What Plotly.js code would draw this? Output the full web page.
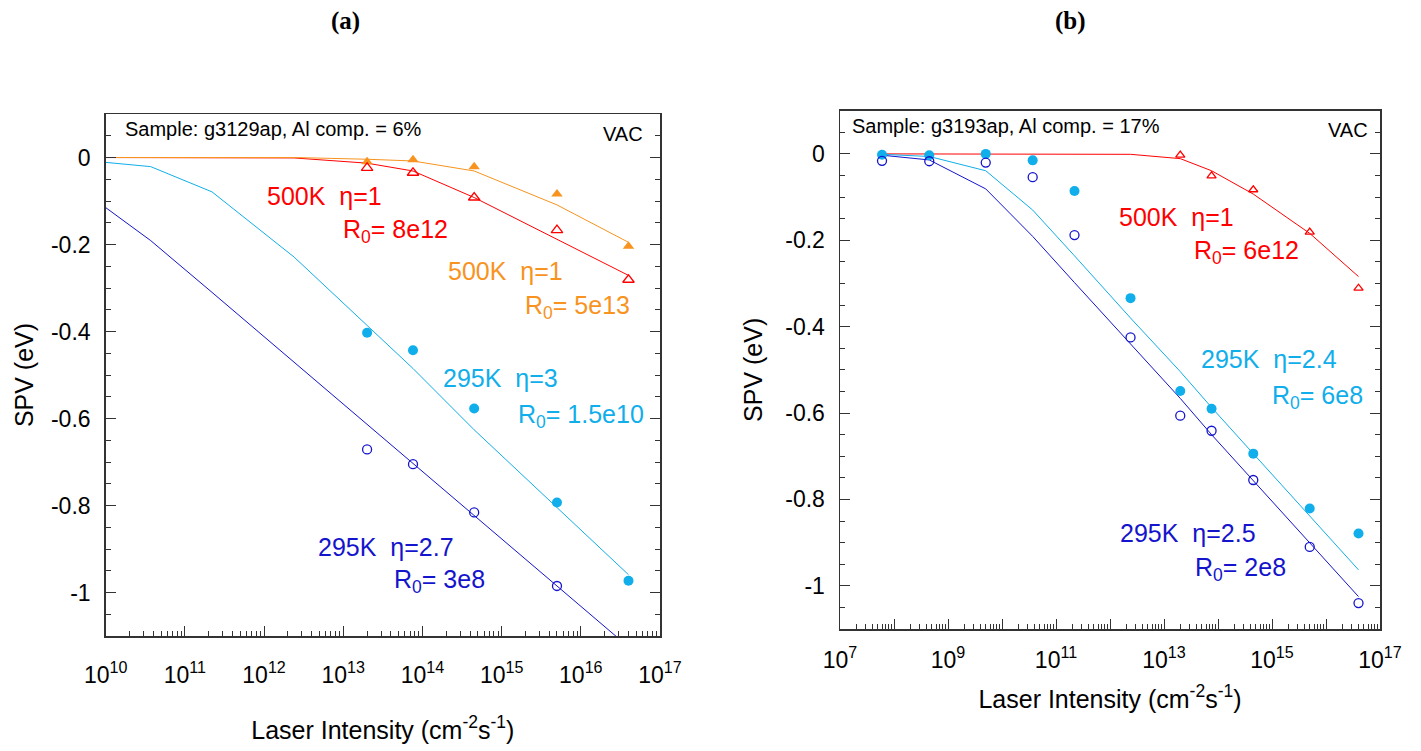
<!DOCTYPE html>
<html>
<head>
<meta charset="utf-8">
<script src="https://cdn.plot.ly/plotly-3.0.1.min.js"></script>
<style>html,body{margin:0;padding:0;background:#fff;}#chart{width:1421px;height:751px;}</style>
</head>
<body>
<div id="chart"></div>
<script>
// ---------- data ----------
// laser intensities of the fitted curves and of the measurement points
const xFitA = [5e9, 3.7e10, 2.2e11, 2.4e12, 2e13, 7.6e13, 4.5e14, 5e15, 4e16];
const xFitB = [6e7, 4.5e8, 5e9, 3.7e10, 2.2e11, 2.4e12, 2e13, 7.6e13, 4.5e14, 5e15, 4e16];
const xPtsA = [2e13, 7.6e13, 4.5e14, 5e15, 4e16];
const xPtsA_blue = [2e13, 7.6e13, 4.5e14, 5e15];
const xPtsB = [6e7, 4.5e8, 5e9, 3.7e10, 2.2e11, 2.4e12, 2e13, 7.6e13, 4.5e14, 5e15, 4e16];
const xPtsB_red = [2e13, 7.6e13, 4.5e14, 5e15, 4e16];

// panel (a): g3129ap, Al 6%
const aFit500K_R8e12 = [0, 0, 0, -0.001, -0.013, -0.031, -0.092, -0.188, -0.271];
const aFit500K_R5e13 = [0, 0, 0, 0, -0.004, -0.008, -0.031, -0.109, -0.195];
const aFit295K_eta3  = [-0.006, -0.021, -0.079, -0.229, -0.386, -0.485, -0.626, -0.805, -0.959];
const aFit295K_eta27 = [-0.075, -0.191, -0.310, -0.471, -0.614, -0.705, -0.825, -0.985, -1.125];
const aPts500K_open   = [-0.024, -0.035, -0.092, -0.167, -0.281];
const aPts500K_filled = [-0.010, -0.005, -0.021, -0.084, -0.204];
const aPts295K_filled = [-0.403, -0.443, -0.577, -0.793, -0.973];
const aPts295K_open   = [-0.671, -0.705, -0.816, -0.985];

// panel (b): g3193ap, Al 17%
const bFit500K_R6e12 = [0, 0, 0, 0, 0, -0.001, -0.011, -0.039, -0.093, -0.184, -0.284];
const bFit295K_eta24 = [-0.001, -0.006, -0.039, -0.130, -0.236, -0.380, -0.504, -0.587, -0.694, -0.837, -0.963];
const bFit295K_eta25 = [-0.003, -0.014, -0.081, -0.191, -0.298, -0.441, -0.566, -0.650, -0.757, -0.901, -1.025];
const bPts295K_filled = [-0.002, -0.003, 0, -0.015, -0.086, -0.334, -0.549, -0.590, -0.694, -0.821, -0.879];
const bPts295K_open   = [-0.016, -0.017, -0.020, -0.054, -0.188, -0.425, -0.606, -0.641, -0.755, -0.910, -1.040];
const bPts500K_open   = [-0.003, -0.051, -0.083, -0.181, -0.311];

// tick labels
const yTickVals = [0, -0.2, -0.4, -0.6, -0.8, -1];
const yTickText = ['0', '-0.2', '-0.4', '-0.6', '-0.8', '-1'];
const xDecadesA = [10, 11, 12, 13, 14, 15, 16, 17];
const xDecadesB = [7, 8, 9, 10, 11, 12, 13, 14, 15, 16, 17];
const xLabelEveryB = 2;

// ---------- styling ----------
const RED = '#ff0000', ORANGE = '#f7931e', CYAN = '#10aeea', BLUE = '#1414cc';
const FONT = 'Liberation Sans, Arial, Helvetica, sans-serif';
const AX = '#333333';

function line(x, y, color, xa, ya) {
  return {x: x, y: y, mode: 'lines', line: {color: color, width: 1}, xaxis: xa, yaxis: ya, hoverinfo: 'skip'};
}
function pts(x, y, color, symbol, size, xa, ya) {
  const open = symbol.indexOf('open') >= 0;
  return {x: x, y: y, mode: 'markers', xaxis: xa, yaxis: ya,
    marker: {symbol: symbol, size: size, color: color, line: {color: color, width: open ? 1.3 : 0}}};
}

const traces = [
  line(xFitA, aFit500K_R8e12, RED, 'x', 'y'),
  line(xFitA, aFit500K_R5e13, ORANGE, 'x', 'y'),
  line(xFitA, aFit295K_eta3, CYAN, 'x', 'y'),
  line(xFitA, aFit295K_eta27, BLUE, 'x', 'y'),
  pts(xPtsA, aPts500K_filled, ORANGE, 'triangle-up', 10, 'x', 'y'),
  pts(xPtsA, aPts500K_open, RED, 'triangle-up-open', 10, 'x', 'y'),
  pts(xPtsA, aPts295K_filled, CYAN, 'circle', 10, 'x', 'y'),
  pts(xPtsA_blue, aPts295K_open, BLUE, 'circle-open', 9, 'x', 'y'),

  line(xFitB, bFit500K_R6e12, RED, 'x2', 'y2'),
  line(xFitB, bFit295K_eta24, CYAN, 'x2', 'y2'),
  line(xFitB, bFit295K_eta25, BLUE, 'x2', 'y2'),
  pts(xPtsB_red, bPts500K_open, RED, 'triangle-up-open', 8, 'x2', 'y2'),
  pts(xPtsB, bPts295K_filled, CYAN, 'circle', 10, 'x2', 'y2'),
  pts(xPtsB, bPts295K_open, BLUE, 'circle-open', 9, 'x2', 'y2')
];

function minorVals(decs) {
  const v = [];
  for (let i = 0; i < decs.length - 1; i++) for (let m = 2; m <= 9; m++) v.push(m * Math.pow(10, decs[i]));
  return v;
}
function xAxis(decs, labelEvery, domain, anchor, standoff, titleStandoff) {
  return {
    type: 'log', domain: domain, anchor: anchor, range: [decs[0], decs[decs.length - 1]],
    tickmode: 'array',
    tickvals: decs.map(d => Math.pow(10, d)),
    ticktext: decs.map((d, i) => (i % labelEvery === 0) ? '10<sup>' + d + '</sup>' : ''),
    ticks: 'inside', ticklen: 10, tickwidth: 1, tickcolor: AX,
    minor: {tickmode: 'array', tickvals: minorVals(decs), ticks: 'inside', ticklen: 5, tickwidth: 1, tickcolor: AX, showgrid: false},
    showline: true, mirror: true, linecolor: AX, linewidth: 1.5,
    showgrid: false, zeroline: false,
    tickfont: {family: FONT, size: 23, color: '#000'},
    ticklabelstandoff: standoff,
    title: {text: 'Laser Intensity (cm<sup>-2</sup>s<sup>-1</sup>)', font: {family: FONT, size: 25, color: '#000'}, standoff: titleStandoff},
    automargin: false
  };
}
function yAxis(domain, anchor, titleStandoff) {
  return {
    domain: domain, anchor: anchor, range: [-1.1, 0.1],
    tickmode: 'array', tickvals: yTickVals, ticktext: yTickText,
    ticks: 'inside', ticklen: 10, tickwidth: 1, tickcolor: AX,
    minor: {tickmode: 'linear', tick0: 0, dtick: 0.05, ticks: 'inside', ticklen: 5, tickwidth: 1, tickcolor: AX, showgrid: false},
    showline: true, mirror: 'ticks', linecolor: AX, linewidth: 1.5,
    showgrid: false, zeroline: false,
    tickfont: {family: FONT, size: 23, color: '#000'},
    ticklabelstandoff: 9,
    title: {text: 'SPV (eV)', font: {family: FONT, size: 25, color: '#000'}, standoff: titleStandoff},
    automargin: false
  };
}

function note(text, x, y, color, xa, ya, size, anchor) {
  return {text: text, x: x, y: y, xref: xa, yref: ya, showarrow: false,
    xanchor: anchor || 'left', yanchor: 'middle', font: {family: FONT, size: size || 25, color: color}};
}

const annotations = [
  // panel titles
  {text: '<b>(a)</b>', x: 345 / 1421, y: 1 - 21 / 751, xref: 'paper', yref: 'paper', showarrow: false,
   xanchor: 'center', yanchor: 'middle', font: {family: 'Liberation Serif, Times New Roman, serif', size: 25, color: '#000'}},
  {text: '<b>(b)</b>', x: 1070 / 1421, y: 1 - 21 / 751, xref: 'paper', yref: 'paper', showarrow: false,
   xanchor: 'center', yanchor: 'middle', font: {family: 'Liberation Serif, Times New Roman, serif', size: 25, color: '#000'}},
  // panel a
  note('Sample: g3129ap, Al comp. = 6%', 10.22, 0.066, '#000', 'x', 'y', 20),
  note('VAC', 16.81, 0.054, '#000', 'x', 'y', 20, 'right'),
  note('500K  η=1', 12.01, -0.088, RED, 'x', 'y'),
  note('R<sub>0</sub>= 8e12', 12.97, -0.170, RED, 'x', 'y'),
  note('500K  η=1', 14.30, -0.262, ORANGE, 'x', 'y'),
  note('R<sub>0</sub>= 5e13', 15.27, -0.344, ORANGE, 'x', 'y'),
  note('295K  η=3', 14.24, -0.508, CYAN, 'x', 'y'),
  note('R<sub>0</sub>= 1.5e10', 15.18, -0.594, CYAN, 'x', 'y'),
  note('295K  η=2.7', 12.65, -0.895, BLUE, 'x', 'y'),
  note('R<sub>0</sub>= 3e8', 13.61, -0.974, BLUE, 'x', 'y'),
  // panel b
  note('Sample: g3193ap, Al comp. = 17%', 7.185, 0.064, '#000', 'x2', 'y2', 20),
  note('VAC', 16.81, 0.056, '#000', 'x2', 'y2', 20, 'right'),
  note('500K  η=1', 12.13, -0.146, RED, 'x2', 'y2'),
  note('R<sub>0</sub>= 6e12', 13.51, -0.226, RED, 'x2', 'y2'),
  note('295K  η=2.4', 13.65, -0.475, CYAN, 'x2', 'y2'),
  note('R<sub>0</sub>= 6e8', 14.97, -0.562, CYAN, 'x2', 'y2'),
  note('295K  η=2.5', 12.14, -0.877, BLUE, 'x2', 'y2'),
  note('R<sub>0</sub>= 2e8', 13.53, -0.962, BLUE, 'x2', 'y2')
];

const layout = {
  width: 1421, height: 751,
  margin: {l: 0, r: 0, t: 0, b: 0, pad: 0},
  paper_bgcolor: '#ffffff', plot_bgcolor: '#ffffff',
  showlegend: false,
  font: {family: FONT, color: '#000'},
  xaxis: xAxis(xDecadesA, 1, [105.7 / 1421, 660 / 1421], 'y', 18, 34),
  yaxis: yAxis([(751 - 636) / 751, (751 - 114) / 751], 'x', 10),
  xaxis2: xAxis(xDecadesB, xLabelEveryB, [840 / 1421, 1380 / 1421], 'y2', 10, 18),
  yaxis2: yAxis([(751 - 629) / 751, (751 - 110.7) / 751], 'x2', 15),
  annotations: annotations
};

Plotly.newPlot('chart', traces, layout, {displayModeBar: false, staticPlot: true});
</script>
</body>
</html>
